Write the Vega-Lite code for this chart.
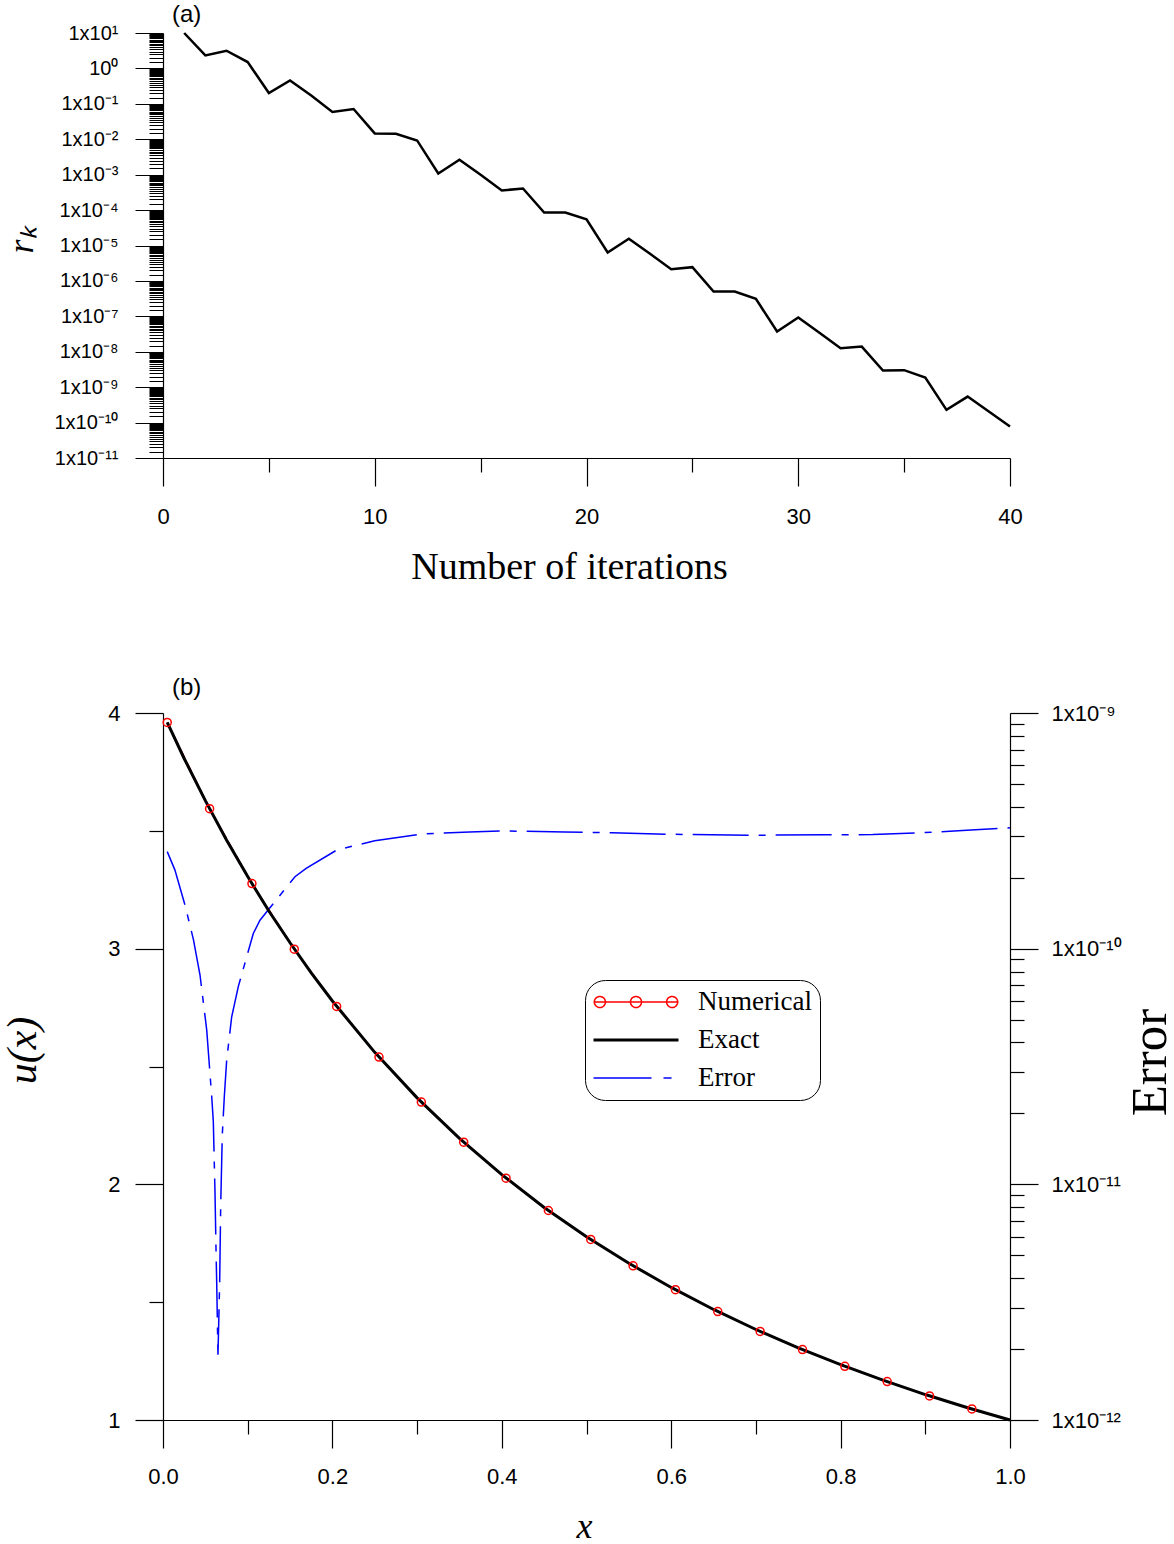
{
  "$schema": "https://vega.github.io/schema/vega-lite/v6.json",
  "background": "white",
  "padding": {"left": 1, "top": 3, "right": 0, "bottom": 0},
  "spacing": 90,
  "config": {
    "view": {"stroke": null},
    "axis": {"domainColor": "#000", "tickColor": "#000", "labelColor": "#000", "titleColor": "#000", "labelFont": "Liberation Sans", "titleFont": "Liberation Serif", "titleFontWeight": "normal", "grid": false, "domainWidth": 1.2, "tickWidth": 1.2, "labelOverlap": false, "labelFlush": false},
    "title": {"font": "Liberation Sans", "fontSize": 24, "fontWeight": "normal", "color": "#000", "anchor": "start", "frame": "group"}
  },
  "vconcat": [
    {
      "width": 847,
      "height": 425,
      "title": {"text": "(a)", "dx": 9, "offset": -4},
      "data": {"values": [
        {"k": 1, "r": 10}, {"k": 2, "r": 2.33}, {"k": 3, "r": 3.16}, {"k": 4, "r": 1.51}, {"k": 5, "r": 0.202},
        {"k": 6, "r": 0.458}, {"k": 7, "r": 0.173}, {"k": 8, "r": 0.0586}, {"k": 9, "r": 0.0713}, {"k": 10, "r": 0.0146},
        {"k": 11, "r": 0.0143}, {"k": 12, "r": 0.00925}, {"k": 13, "r": 0.00108}, {"k": 14, "r": 0.00264}, {"k": 15, "r": 0.000993},
        {"k": 16, "r": 0.000358}, {"k": 17, "r": 0.000408}, {"k": 18, "r": 8.55e-5}, {"k": 19, "r": 8.55e-5}, {"k": 20, "r": 5.5e-5},
        {"k": 21, "r": 6.34e-6}, {"k": 22, "r": 1.55e-5}, {"k": 23, "r": 5.83e-6}, {"k": 24, "r": 2.15e-6}, {"k": 25, "r": 2.45e-6},
        {"k": 26, "r": 5.02e-7}, {"k": 27, "r": 5.02e-7}, {"k": 28, "r": 3.12e-7}, {"k": 29, "r": 3.72e-8}, {"k": 30, "r": 9.25e-8},
        {"k": 31, "r": 3.42e-8}, {"k": 32, "r": 1.26e-8}, {"k": 33, "r": 1.40e-8}, {"k": 34, "r": 2.94e-9}, {"k": 35, "r": 3.02e-9},
        {"k": 36, "r": 1.87e-9}, {"k": 37, "r": 2.29e-10}, {"k": 38, "r": 5.42e-10}, {"k": 39, "r": 2.05e-10}, {"k": 40, "r": 7.71e-11}
      ]},
      "mark": {"type": "line", "color": "#000", "strokeWidth": 2.5},
      "encoding": {
        "x": {
          "field": "k", "type": "quantitative",
          "scale": {"domain": [0, 40], "nice": false, "zero": false},
          "axis": {
            "values": [0, 5, 10, 15, 20, 25, 30, 35, 40],
            "title": "Number of iterations", "titleFontSize": 38, "titleX": 406, "titleY": 120, "titleBaseline": "alphabetic",
            "labelFontSize": 22, "labelPadding": 20,
            "tickSize": {"condition": {"test": "datum.value % 10 === 0", "value": 28}, "value": 14},
            "labelExpr": "datum.value % 10 === 0 ? format(datum.value, 'd') : ''"
          }
        },
        "y": {
          "field": "r", "type": "quantitative",
          "scale": {"type": "log", "domain": [1e-11, 10], "nice": false},
          "axis": {
            "values": [
              1e-11, 1.5e-11, 2e-11, 2.5e-11, 3e-11, 3.5e-11, 4e-11, 4.5e-11, 5e-11, 5.5e-11, 6e-11, 6.5e-11, 7e-11, 7.5e-11, 8e-11, 8.5e-11, 9e-11, 9.5e-11,
              1e-10, 1.5e-10, 2e-10, 2.5e-10, 3e-10, 3.5e-10, 4e-10, 4.5e-10, 5e-10, 5.5e-10, 6e-10, 6.5e-10, 7e-10, 7.5e-10, 8e-10, 8.5e-10, 9e-10, 9.5e-10,
              1e-9, 1.5e-9, 2e-9, 2.5e-9, 3e-9, 3.5e-9, 4e-9, 4.5e-9, 5e-9, 5.5e-9, 6e-9, 6.5e-9, 7e-9, 7.5e-9, 8e-9, 8.5e-9, 9e-9, 9.5e-9,
              1e-8, 1.5e-8, 2e-8, 2.5e-8, 3e-8, 3.5e-8, 4e-8, 4.5e-8, 5e-8, 5.5e-8, 6e-8, 6.5e-8, 7e-8, 7.5e-8, 8e-8, 8.5e-8, 9e-8, 9.5e-8,
              1e-7, 1.5e-7, 2e-7, 2.5e-7, 3e-7, 3.5e-7, 4e-7, 4.5e-7, 5e-7, 5.5e-7, 6e-7, 6.5e-7, 7e-7, 7.5e-7, 8e-7, 8.5e-7, 9e-7, 9.5e-7,
              1e-6, 1.5e-6, 2e-6, 2.5e-6, 3e-6, 3.5e-6, 4e-6, 4.5e-6, 5e-6, 5.5e-6, 6e-6, 6.5e-6, 7e-6, 7.5e-6, 8e-6, 8.5e-6, 9e-6, 9.5e-6,
              1e-5, 1.5e-5, 2e-5, 2.5e-5, 3e-5, 3.5e-5, 4e-5, 4.5e-5, 5e-5, 5.5e-5, 6e-5, 6.5e-5, 7e-5, 7.5e-5, 8e-5, 8.5e-5, 9e-5, 9.5e-5,
              1e-4, 1.5e-4, 2e-4, 2.5e-4, 3e-4, 3.5e-4, 4e-4, 4.5e-4, 5e-4, 5.5e-4, 6e-4, 6.5e-4, 7e-4, 7.5e-4, 8e-4, 8.5e-4, 9e-4, 9.5e-4,
              1e-3, 1.5e-3, 2e-3, 2.5e-3, 3e-3, 3.5e-3, 4e-3, 4.5e-3, 5e-3, 5.5e-3, 6e-3, 6.5e-3, 7e-3, 7.5e-3, 8e-3, 8.5e-3, 9e-3, 9.5e-3,
              0.01, 0.015, 0.02, 0.025, 0.03, 0.035, 0.04, 0.045, 0.05, 0.055, 0.06, 0.065, 0.07, 0.075, 0.08, 0.085, 0.09, 0.095,
              0.1, 0.15, 0.2, 0.25, 0.3, 0.35, 0.4, 0.45, 0.5, 0.55, 0.6, 0.65, 0.7, 0.75, 0.8, 0.85, 0.9, 0.95,
              1, 1.5, 2, 2.5, 3, 3.5, 4, 4.5, 5, 5.5, 6, 6.5, 7, 7.5, 8, 8.5, 9, 9.5, 10
            ],
            "title": "rₖ", "titleFontSize": 36, "titleFontStyle": "italic", "titleAngle": 270, "titleX": -131, "titleY": 207, "titleBaseline": "alphabetic", "titleAlign": "center",
            "labelFontSize": 20, "labelPadding": 17, "labelBaseline": "middle", "tickWidth": 1,
            "tickSize": {"condition": {"test": "abs(log(datum.value)/LN10 - round(log(datum.value)/LN10)) < 0.001", "value": 28}, "value": 14},
            "labelExpr": "abs(log(datum.value)/LN10 - round(log(datum.value)/LN10)) < 0.001 ? ['1x10⁻¹¹','1x10⁻¹⁰','1x10⁻⁹','1x10⁻⁸','1x10⁻⁷','1x10⁻⁶','1x10⁻⁵','1x10⁻⁴','1x10⁻³','1x10⁻²','1x10⁻¹','10⁰','1x10¹'][round(log(datum.value)/LN10) + 11] : ''"
          }
        }
      }
    },
    {
      "width": 847,
      "height": 707,
      "title": {"text": "(b)", "dx": 9, "offset": 2},
      "encoding": {
        "x": {
          "field": "x", "type": "quantitative",
          "scale": {"domain": [0, 1], "nice": false},
          "axis": {
            "values": [0, 0.1, 0.2, 0.3, 0.4, 0.5, 0.6, 0.7, 0.8, 0.9, 1.0],
            "title": "x", "titleFontSize": 36, "titleFontStyle": "italic", "titleX": 421, "titleY": 117, "titleBaseline": "alphabetic",
            "labelFontSize": 22, "labelPadding": 18,
            "tickSize": {"condition": {"test": "round(datum.value * 10) % 2 === 0", "value": 28}, "value": 14},
            "labelExpr": "round(datum.value * 10) % 2 === 0 ? format(datum.value, '.1f') : ''"
          }
        }
      },
      "layer": [
        {
          "data": {"values": [
            {"x": 0.005, "err": 2.58e-10, "series": "Error"}, {"x": 0.014, "err": 2.16e-10, "series": "Error"},
            {"x": 0.026, "err": 1.53e-10, "series": "Error"}, {"x": 0.036, "err": 1.09e-10, "series": "Error"},
            {"x": 0.0437, "err": 7.73e-11, "series": "Error"}, {"x": 0.0516, "err": 4.52e-11, "series": "Error"},
            {"x": 0.0575, "err": 2.36e-11, "series": "Error"}, {"x": 0.0594, "err": 1.85e-11, "series": "Error"},
            {"x": 0.0614, "err": 9.2e-12, "series": "Error"}, {"x": 0.0626, "err": 5.27e-12, "series": "Error"},
            {"x": 0.0634, "err": 3.82e-12, "series": "Error"}, {"x": 0.0649, "err": 1.89e-12, "series": "Error"},
            {"x": 0.0669, "err": 3.82e-12, "series": "Error"}, {"x": 0.0681, "err": 8.04e-12, "series": "Error"},
            {"x": 0.070, "err": 1.62e-11, "series": "Error"}, {"x": 0.0724, "err": 2.36e-11, "series": "Error"},
            {"x": 0.0752, "err": 3.37e-11, "series": "Error"}, {"x": 0.0811, "err": 5.14e-11, "series": "Error"},
            {"x": 0.0889, "err": 6.9e-11, "series": "Error"}, {"x": 0.1066, "err": 1.16e-10, "series": "Error"},
            {"x": 0.1145, "err": 1.32e-10, "series": "Error"}, {"x": 0.1558, "err": 2.02e-10, "series": "Error"},
            {"x": 0.169, "err": 2.19e-10, "series": "Error"}, {"x": 0.205, "err": 2.62e-10, "series": "Error"},
            {"x": 0.250, "err": 2.87e-10, "series": "Error"}, {"x": 0.306, "err": 3.07e-10, "series": "Error"},
            {"x": 0.362, "err": 3.13e-10, "series": "Error"}, {"x": 0.401, "err": 3.16e-10, "series": "Error"},
            {"x": 0.474, "err": 3.13e-10, "series": "Error"}, {"x": 0.530, "err": 3.10e-10, "series": "Error"},
            {"x": 0.614, "err": 3.05e-10, "series": "Error"}, {"x": 0.698, "err": 3.03e-10, "series": "Error"},
            {"x": 0.782, "err": 3.04e-10, "series": "Error"}, {"x": 0.838, "err": 3.05e-10, "series": "Error"},
            {"x": 0.893, "err": 3.10e-10, "series": "Error"}, {"x": 0.949, "err": 3.18e-10, "series": "Error"},
            {"x": 0.990, "err": 3.24e-10, "series": "Error"}, {"x": 1.0, "err": 3.26e-10, "series": "Error"}
          ]},
          "mark": {"type": "line", "strokeWidth": 1.5, "strokeDash": [56, 10, 7, 10]},
          "encoding": {
            "y": {
              "field": "err", "type": "quantitative",
              "scale": {"type": "log", "domain": [1e-12, 1e-9], "nice": false},
              "axis": {
                "orient": "right",
                "values": [1e-12, 2e-12, 3e-12, 4e-12, 5e-12, 6e-12, 7e-12, 8e-12, 9e-12, 1e-11, 2e-11, 3e-11, 4e-11, 5e-11, 6e-11, 7e-11, 8e-11, 9e-11, 1e-10, 2e-10, 3e-10, 4e-10, 5e-10, 6e-10, 7e-10, 8e-10, 9e-10, 1e-9],
                "title": "Error", "titleFontSize": 51, "titleAngle": 270, "titleX": 155, "titleY": 349, "titleBaseline": "alphabetic", "titleAlign": "center",
                "labelFontSize": 22, "labelPadding": 13, "labelBaseline": "middle",
                "tickSize": {"condition": {"test": "abs(log(datum.value)/LN10 - round(log(datum.value)/LN10)) < 0.001", "value": 28}, "value": 14},
                "labelExpr": "abs(log(datum.value)/LN10 - round(log(datum.value)/LN10)) < 0.001 ? ['1x10⁻¹²','1x10⁻¹¹','1x10⁻¹⁰','1x10⁻⁹'][round(log(datum.value)/LN10) + 12] : ''"
              }
            },
            "color": {
              "field": "series", "type": "nominal",
              "scale": {"domain": ["Numerical", "Exact", "Error"], "range": ["#ff0000", "#000000", "#0000ff"]},
              "legend": {
                "title": null, "orient": "none", "legendX": 422, "legendY": 947,
                "padding": 8, "strokeColor": "#000", "fillColor": "white", "cornerRadius": 20,
                "symbolSize": 7225, "clipHeight": 28, "rowPadding": 10, "labelOffset": 20, "symbolOffset": 0,
                "labelFont": "Liberation Serif", "labelFontSize": 27, "labelColor": "#000", "labelLimit": 300,
                "encode": {
                  "symbols": {"update": {
                    "shape": {"signal": "datum.value === 'Numerical' ? 'M-1,0H1M-0.98,0A0.13,0.13,0,1,1,-0.72,0A0.13,0.13,0,1,1,-0.98,0M-0.13,0A0.13,0.13,0,1,1,0.13,0A0.13,0.13,0,1,1,-0.13,0M0.72,0A0.13,0.13,0,1,1,0.98,0A0.13,0.13,0,1,1,0.72,0' : 'M-1,0H1'"},
                    "size": {"value": 7225},
                    "x": {"value": 43},
                    "strokeDash": {"signal": "datum.value === 'Error' ? [58, 12, 8, 10] : [1, 0]"},
                    "strokeWidth": {"signal": "datum.value === 'Exact' ? 3 : 1.5"},
                    "stroke": {"signal": "datum.value === 'Numerical' ? '#ff0000' : datum.value === 'Exact' ? '#000000' : '#0000ff'"},
                    "fill": {"value": "transparent"},
                    "opacity": {"value": 1}
                  }},
                  "labels": {"update": {"x": {"value": 105}}}
                }
              }
            }
          }
        },
        {
          "layer": [
            {
              "data": {"values": [
                {"x": 0.005, "u": 3.960, "series": "Numerical"}, {"x": 0.055, "u": 3.594, "series": "Numerical"},
                {"x": 0.105, "u": 3.276, "series": "Numerical"}, {"x": 0.155, "u": 2.998, "series": "Numerical"},
                {"x": 0.205, "u": 2.755, "series": "Numerical"}, {"x": 0.255, "u": 2.540, "series": "Numerical"},
                {"x": 0.305, "u": 2.349, "series": "Numerical"}, {"x": 0.355, "u": 2.179, "series": "Numerical"},
                {"x": 0.405, "u": 2.026, "series": "Numerical"}, {"x": 0.455, "u": 1.889, "series": "Numerical"},
                {"x": 0.505, "u": 1.766, "series": "Numerical"}, {"x": 0.555, "u": 1.654, "series": "Numerical"},
                {"x": 0.605, "u": 1.553, "series": "Numerical"}, {"x": 0.655, "u": 1.460, "series": "Numerical"},
                {"x": 0.705, "u": 1.376, "series": "Numerical"}, {"x": 0.755, "u": 1.299, "series": "Numerical"},
                {"x": 0.805, "u": 1.228, "series": "Numerical"}, {"x": 0.855, "u": 1.163, "series": "Numerical"},
                {"x": 0.905, "u": 1.102, "series": "Numerical"}, {"x": 0.955, "u": 1.047, "series": "Numerical"}
              ]},
              "mark": {"type": "line", "strokeWidth": 1.5, "strokeDash": [10, 5]},
              "encoding": {
                "y": {"field": "u", "type": "quantitative"},
                "color": {"field": "series", "type": "nominal"}
              }
            },
            {
              "data": {"values": [
                {"x": 0.005, "u": 3.960, "series": "Exact"}, {"x": 0.025, "u": 3.807, "series": "Exact"},
                {"x": 0.05, "u": 3.628, "series": "Exact"}, {"x": 0.075, "u": 3.461, "series": "Exact"},
                {"x": 0.1, "u": 3.306, "series": "Exact"}, {"x": 0.125, "u": 3.160, "series": "Exact"},
                {"x": 0.15, "u": 3.025, "series": "Exact"}, {"x": 0.175, "u": 2.897, "series": "Exact"},
                {"x": 0.2, "u": 2.778, "series": "Exact"}, {"x": 0.25, "u": 2.560, "series": "Exact"},
                {"x": 0.3, "u": 2.367, "series": "Exact"}, {"x": 0.35, "u": 2.195, "series": "Exact"},
                {"x": 0.4, "u": 2.041, "series": "Exact"}, {"x": 0.45, "u": 1.902, "series": "Exact"},
                {"x": 0.5, "u": 1.778, "series": "Exact"}, {"x": 0.55, "u": 1.665, "series": "Exact"},
                {"x": 0.6, "u": 1.5625, "series": "Exact"}, {"x": 0.65, "u": 1.469, "series": "Exact"},
                {"x": 0.7, "u": 1.384, "series": "Exact"}, {"x": 0.75, "u": 1.306, "series": "Exact"},
                {"x": 0.8, "u": 1.235, "series": "Exact"}, {"x": 0.85, "u": 1.169, "series": "Exact"},
                {"x": 0.9, "u": 1.108, "series": "Exact"}, {"x": 0.95, "u": 1.052, "series": "Exact"},
                {"x": 1.0, "u": 1.0, "series": "Exact"}
              ]},
              "mark": {"type": "line", "strokeWidth": 3},
              "encoding": {
                "y": {"field": "u", "type": "quantitative"},
                "color": {"field": "series", "type": "nominal"}
              }
            },
            {
              "data": {"values": [
                {"x": 0.005, "u": 3.960}, {"x": 0.055, "u": 3.594}, {"x": 0.105, "u": 3.276}, {"x": 0.155, "u": 2.998},
                {"x": 0.205, "u": 2.755}, {"x": 0.255, "u": 2.540}, {"x": 0.305, "u": 2.349}, {"x": 0.355, "u": 2.179},
                {"x": 0.405, "u": 2.026}, {"x": 0.455, "u": 1.889}, {"x": 0.505, "u": 1.766}, {"x": 0.555, "u": 1.654},
                {"x": 0.605, "u": 1.553}, {"x": 0.655, "u": 1.460}, {"x": 0.705, "u": 1.376}, {"x": 0.755, "u": 1.299},
                {"x": 0.805, "u": 1.228}, {"x": 0.855, "u": 1.163}, {"x": 0.905, "u": 1.102}, {"x": 0.955, "u": 1.047}
              ]},
              "mark": {"type": "point", "shape": "circle", "filled": false, "color": "#ff0000", "size": 64, "strokeWidth": 1.5, "opacity": 1},
              "encoding": {
                "y": {"field": "u", "type": "quantitative"}
              }
            }
          ],
          "encoding": {
            "y": {
              "field": "u", "type": "quantitative",
              "scale": {"domain": [1, 4], "nice": false, "zero": false},
              "axis": {
                "values": [1, 1.5, 2, 2.5, 3, 3.5, 4],
                "title": "u(x)", "titleFontSize": 42, "titleFontStyle": "italic", "titleAngle": 270, "titleX": -128, "titleY": 337, "titleBaseline": "alphabetic", "titleAlign": "center",
                "labelFontSize": 22, "labelPadding": 15, "labelBaseline": "middle",
                "tickSize": {"condition": {"test": "datum.value % 1 === 0", "value": 28}, "value": 14},
                "labelExpr": "datum.value % 1 === 0 ? format(datum.value, 'd') : ''"
              }
            }
          }
        }
      ],
      "resolve": {"scale": {"y": "independent"}}
    }
  ]
}
